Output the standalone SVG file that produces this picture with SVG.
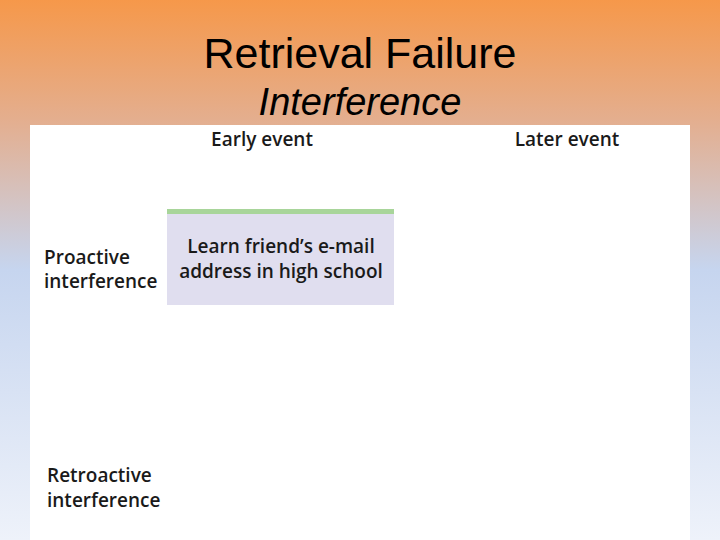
<svg xmlns="http://www.w3.org/2000/svg" width="720" height="540" viewBox="0 0 720 540">
  <defs>
    <linearGradient id="bg" x1="0" y1="0" x2="0" y2="1">
      <stop offset="0" stop-color="#F6984A"/>
      <stop offset="0.22" stop-color="#E4AE8E"/>
      <stop offset="0.5" stop-color="#C6D5EF"/>
      <stop offset="1" stop-color="#EEF2FA"/>
    </linearGradient>
    <style>
      .title{font-family:"Liberation Sans",Arial,sans-serif;fill:#000;text-anchor:middle}
      .lbl{font-family:"Open Sans","Noto Sans",sans-serif;font-size:19px;font-weight:600;fill:#1a1a1a}
      .mid{text-anchor:middle}
    </style>
  </defs>
  <rect x="0" y="0" width="720" height="540" fill="url(#bg)"/>
  <text class="title" x="360" y="68" font-size="43">Retrieval Failure</text>
  <text class="title" x="360" y="115" font-size="38" font-style="italic">Interference</text>
  <rect x="30" y="125" width="660" height="415" fill="#FFFFFF"/>
  <g id="headers">
    <text class="lbl mid" x="262" y="146">Early event</text>
    <text class="lbl mid" x="567" y="146">Later event</text>
  </g>
  <g id="rows">
    <text class="lbl" x="44" y="264">Proactive</text>
    <text class="lbl" x="44" y="288">interference</text>
    <text class="lbl" x="47" y="482">Retroactive</text>
    <text class="lbl" x="47" y="507">interference</text>
  </g>
  <g id="node-learn">
    <rect x="167" y="209" width="227" height="96" fill="#E0DEEF"/>
    <rect x="167" y="209" width="227" height="5" fill="#A8D59A"/>
    <text class="lbl mid" x="281" y="253">Learn friend’s e-mail</text>
    <text class="lbl mid" x="281" y="278">address in high school</text>
  </g>
  <g id="connectors"/>
</svg>
